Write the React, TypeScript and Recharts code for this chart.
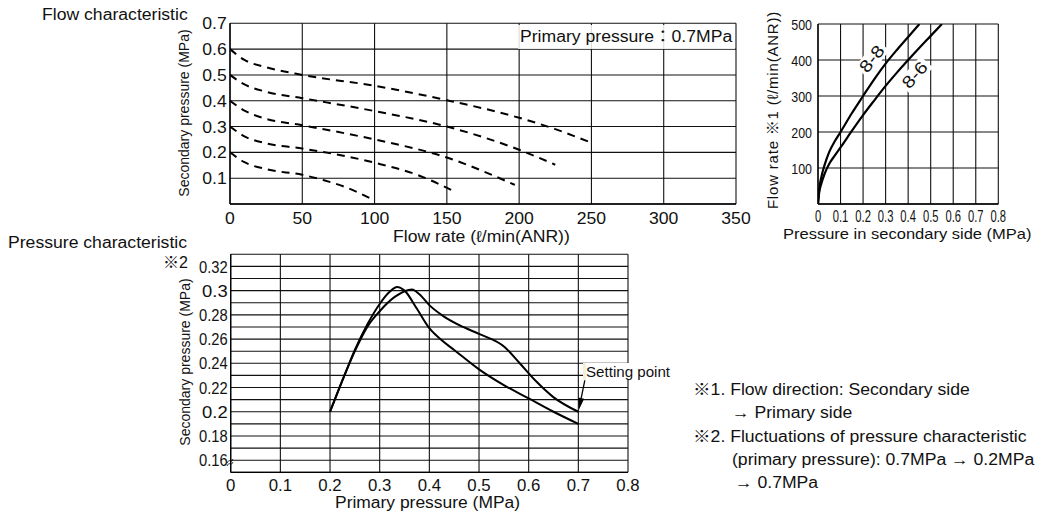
import React from 'react';
import { LineChart, Line, XAxis, YAxis, CartesianGrid, ReferenceLine } from 'recharts';

const FONT = '"Liberation Sans", Arial, "Noto Sans CJK JP", sans-serif';

// ---------- Flow characteristic (top-left) ----------
const FLOW_X_TICKS = [0, 50, 100, 150, 200, 250, 300, 350];
const SEC_PRESSURE_TICKS = [0, 0.1, 0.2, 0.3, 0.4, 0.5, 0.6, 0.7];

const SET06_FLOW = [0, 10, 25, 50, 100, 150, 200, 225, 250];
const SET06_PRESSURE = [0.6, 0.558, 0.53, 0.5, 0.458, 0.402, 0.334, 0.29, 0.237];
const SET05_FLOW = [0, 10, 25, 50, 100, 150, 200, 225];
const SET05_PRESSURE = [0.5, 0.463, 0.435, 0.41, 0.36, 0.3, 0.21, 0.152];
const SET04_FLOW = [0, 10, 25, 50, 100, 150, 197];
const SET04_PRESSURE = [0.4, 0.362, 0.33, 0.305, 0.25, 0.18, 0.074];
const SET03_FLOW = [0, 10, 25, 50, 100, 130, 154];
const SET03_PRESSURE = [0.3, 0.262, 0.235, 0.215, 0.16, 0.112, 0.052];
const SET02_FLOW = [0, 10, 25, 50, 65, 80, 97];
const SET02_PRESSURE = [0.2, 0.162, 0.135, 0.113, 0.092, 0.065, 0.022];

// ---------- Flow rate vs secondary pressure (top-right) ----------
const SEC_SIDE_TICKS = [0, 0.1, 0.2, 0.3, 0.4, 0.5, 0.6, 0.7, 0.8];
const FLOW_RATE_TICKS = [0, 100, 200, 300, 400, 500];
const M88_PRESSURE = [0, 0.005, 0.015, 0.03, 0.05, 0.075, 0.1, 0.15, 0.2, 0.25, 0.3, 0.35, 0.4, 0.45];
const M88_FLOW = [0, 40, 75, 110, 145, 175, 200, 252, 300, 347, 390, 428, 464, 500];
const M86_PRESSURE = [0, 0.005, 0.015, 0.03, 0.05, 0.075, 0.1, 0.15, 0.2, 0.25, 0.3, 0.35, 0.4, 0.45, 0.5, 0.55];
const M86_FLOW = [0, 30, 57, 85, 112, 135, 157, 203, 247, 288, 328, 365, 400, 434, 467, 500];

// ---------- Pressure characteristic (bottom) ----------
const PRIMARY_TICKS = [0, 0.1, 0.2, 0.3, 0.4, 0.5, 0.6, 0.7, 0.8];
const PC_Y_TICKS = [0.15, 0.16, 0.17, 0.18, 0.19, 0.2, 0.21, 0.22, 0.23, 0.24, 0.25, 0.26, 0.27, 0.28, 0.29, 0.3, 0.31, 0.32, 0.33];
const PC_Y_LABELS = ['0.16', '0.18', '0.2', '0.22', '0.24', '0.26', '0.28', '0.3', '0.32'];
const FALL_PRIMARY = [0.2, 0.23, 0.25, 0.275, 0.3, 0.32, 0.335, 0.35, 0.375, 0.4, 0.425, 0.45, 0.5, 0.55, 0.6, 0.65, 0.7];
const FALL_SECONDARY = [0.2, 0.231, 0.251, 0.272, 0.289, 0.299, 0.303, 0.3, 0.285, 0.269, 0.259, 0.251, 0.235, 0.222, 0.211, 0.2, 0.19];
const RISE_PRIMARY = [0.2, 0.23, 0.25, 0.275, 0.3, 0.331, 0.365, 0.38, 0.401, 0.428, 0.468, 0.5, 0.552, 0.582, 0.616, 0.649, 0.7];
const RISE_SECONDARY = [0.2, 0.231, 0.25, 0.27, 0.283, 0.295, 0.301, 0.297, 0.2876, 0.279, 0.27, 0.2643, 0.2533, 0.24, 0.2247, 0.2123, 0.2];
const SETTING_ARROW = [
  { x: 0.713, y: 0.226 },
  { x: 0.701, y: 0.2015 },
];

const zip = (xs: number[], ys: number[]) => xs.map((x, i) => ({ x, y: ys[i] }));

const FLOW_SERIES = [
  zip(SET06_FLOW, SET06_PRESSURE),
  zip(SET05_FLOW, SET05_PRESSURE),
  zip(SET04_FLOW, SET04_PRESSURE),
  zip(SET03_FLOW, SET03_PRESSURE),
  zip(SET02_FLOW, SET02_PRESSURE),
];
const M88 = zip(M88_PRESSURE, M88_FLOW);
const M86 = zip(M86_PRESSURE, M86_FLOW);
const FALL = zip(FALL_PRIMARY, FALL_SECONDARY);
const RISE = zip(RISE_PRIMARY, RISE_SECONDARY);

type TickOpts = {
  axis: 'x' | 'y';
  fontSize: number;
  scaleX: (label: string) => number;
  offset: number;
  format: (v: number) => string;
};

const makeTick = (o: TickOpts) => (props: any) => {
  const { x, y, payload } = props;
  const label = o.format(Number(payload.value));
  if (!label) return <g />;
  const sx = o.scaleX(label);
  const tx = o.axis === 'x' ? x : x - o.offset;
  const ty = o.axis === 'x' ? y + o.offset : y + 0.5;
  return (
    <text
      transform={`translate(${tx},${ty}) scale(${sx},1)`}
      textAnchor={o.axis === 'x' ? 'middle' : 'end'}
      dy="0.35em"
      fontSize={o.fontSize}
      fontFamily={FONT}
      fill="#111"
    >
      {label}
    </text>
  );
};

const fmtDec1 = (v: number) => (v === 0 ? '0' : v.toFixed(1));

const flowXTick = makeTick({ axis: 'x', fontSize: 16, scaleX: () => 1.1, offset: 14.3, format: (v) => String(v) });
const flowYTick = makeTick({ axis: 'y', fontSize: 16, scaleX: () => 1.1, offset: 3.3, format: (v) => (v === 0 ? '' : v.toFixed(1)) });
const secXTick = makeTick({ axis: 'x', fontSize: 16, scaleX: () => 0.7, offset: 12.7, format: fmtDec1 });
const secYTick = makeTick({ axis: 'y', fontSize: 14.5, scaleX: () => 0.86, offset: 6, format: (v) => (v === 0 ? '' : String(v)) });
const pcXTick = makeTick({ axis: 'x', fontSize: 16, scaleX: () => 1.05, offset: 12.7, format: fmtDec1 });
const pcYTick = makeTick({
  axis: 'y',
  fontSize: 16,
  scaleX: (l) => (l.length === 3 ? 1.15 : 0.92),
  offset: 3,
  format: (v) => {
    const s = String(Number(v.toFixed(2)));
    return PC_Y_LABELS.includes(s) ? s : '';
  },
});

const ArrowShape = (p: any) => {
  const { x1, y1, x2, y2 } = p;
  if ([x1, y1, x2, y2].some((v) => typeof v !== 'number' || isNaN(v))) return <g />;
  const dx = x2 - x1;
  const dy = y2 - y1;
  const len = Math.sqrt(dx * dx + dy * dy) || 1;
  const ux = dx / len;
  const uy = dy / len;
  const hl = 12;
  const hw = 3;
  const bx = x2 - ux * hl;
  const by = y2 - uy * hl;
  return (
    <g>
      <line x1={x1} y1={y1} x2={bx} y2={by} stroke="#000" strokeWidth={1.3} />
      <polygon
        points={`${x2},${y2} ${bx - uy * hw},${by + ux * hw} ${bx + uy * hw},${by - ux * hw}`}
        fill="#000"
      />
    </g>
  );
};

const Txt = ({ x, cy, fs = 16, sx = 1.1, children, style }: any) => (
  <div
    style={{
      position: 'absolute',
      left: x,
      top: cy - fs * 0.5,
      fontSize: fs,
      lineHeight: `${fs}px`,
      fontFamily: FONT,
      whiteSpace: 'nowrap',
      transform: `scaleX(${sx})`,
      transformOrigin: 'left center',
      color: '#111',
      ...style,
    }}
  >
    {children}
  </div>
);

const RTxt = ({ cx, cy, fs = 14, angle = -90, sx = 1, children, style }: any) => (
  <div
    style={{
      position: 'absolute',
      left: cx,
      top: cy,
      fontSize: fs,
      lineHeight: `${fs}px`,
      fontFamily: FONT,
      whiteSpace: 'nowrap',
      transform: `translate(-50%,-50%) rotate(${angle}deg) scaleX(${sx})`,
      color: '#111',
      ...style,
    }}
  >
    {children}
  </div>
);

const axisLineStyle = { stroke: '#000', strokeWidth: 1.3 };
const GRID = '#111';

export default function App() {
  return (
    <div style={{ position: 'absolute', left: 0, top: 0, width: 1046, height: 513, overflow: 'hidden', background: '#fff' }}>
      {/* Flow characteristic */}
      <div style={{ position: 'absolute', left: 0, top: 0 }}>
        <LineChart width={760} height={250} margin={{ top: 23.3, right: 24, bottom: 16, left: 190 }}>
          <CartesianGrid stroke={GRID} strokeWidth={1.1} />
          <XAxis
            type="number"
            dataKey="x"
            domain={[0, 350]}
            ticks={FLOW_X_TICKS}
            interval={0}
            height={30}
            tickSize={0}
            tickMargin={0}
            tickLine={false}
            axisLine={axisLineStyle}
            tick={flowXTick}
            allowDataOverflow
          />
          <YAxis
            type="number"
            dataKey="y"
            domain={[0, 0.7]}
            ticks={SEC_PRESSURE_TICKS}
            interval={0}
            width={40}
            tickSize={0}
            tickMargin={0}
            tickLine={false}
            axisLine={axisLineStyle}
            tick={flowYTick}
            allowDataOverflow
          />
          {FLOW_SERIES.map((d, i) => (
            <Line
              key={i}
              data={d}
              dataKey="y"
              type="monotone"
              stroke="#000"
              strokeWidth={2}
              strokeDasharray="8 6"
              dot={false}
              activeDot={false}
              isAnimationActive={false}
            />
          ))}
        </LineChart>
      </div>

      {/* Flow rate vs pressure in secondary side */}
      <div style={{ position: 'absolute', left: 760, top: 0 }}>
        <LineChart width={286} height={250} margin={{ top: 24, right: 47.7, bottom: 16, left: 28 }}>
          <CartesianGrid stroke={GRID} strokeWidth={1.1} />
          <XAxis
            type="number"
            dataKey="x"
            domain={[0, 0.8]}
            ticks={SEC_SIDE_TICKS}
            interval={0}
            height={30}
            tickSize={0}
            tickMargin={0}
            tickLine={false}
            axisLine={axisLineStyle}
            tick={secXTick}
            allowDataOverflow
          />
          <YAxis
            type="number"
            dataKey="y"
            domain={[0, 500]}
            ticks={FLOW_RATE_TICKS}
            interval={0}
            width={30}
            tickSize={0}
            tickMargin={0}
            tickLine={false}
            axisLine={axisLineStyle}
            tick={secYTick}
            allowDataOverflow
          />
          <Line data={M88} dataKey="y" type="monotone" stroke="#000" strokeWidth={2.2} dot={false} activeDot={false} isAnimationActive={false} />
          <Line data={M86} dataKey="y" type="monotone" stroke="#000" strokeWidth={2.2} dot={false} activeDot={false} isAnimationActive={false} />
        </LineChart>
      </div>

      {/* Pressure characteristic */}
      <div style={{ position: 'absolute', left: 0, top: 240 }}>
        <LineChart width={700} height={273} margin={{ top: 14.3, right: 72, bottom: 15.7, left: 190.7 }}>
          <CartesianGrid stroke={GRID} strokeWidth={1.1} />
          <XAxis
            type="number"
            dataKey="x"
            domain={[0, 0.8]}
            ticks={PRIMARY_TICKS}
            interval={0}
            height={25}
            tickSize={0}
            tickMargin={0}
            tickLine={false}
            axisLine={axisLineStyle}
            tick={pcXTick}
            allowDataOverflow
          />
          <YAxis
            type="number"
            dataKey="y"
            domain={[0.15, 0.33]}
            ticks={PC_Y_TICKS}
            interval={0}
            width={40}
            tickSize={0}
            tickMargin={0}
            tickLine={false}
            axisLine={axisLineStyle}
            tick={pcYTick}
            allowDataOverflow
          />
          <Line data={FALL} dataKey="y" type="monotone" stroke="#000" strokeWidth={2} dot={false} activeDot={false} isAnimationActive={false} />
          <Line data={RISE} dataKey="y" type="monotone" stroke="#000" strokeWidth={2} dot={false} activeDot={false} isAnimationActive={false} />
          <ReferenceLine segment={SETTING_ARROW} shape={(p: any) => <ArrowShape {...p} />} ifOverflow="visible" />
        </LineChart>
      </div>

      {/* axis break mark */}
      <svg style={{ position: 'absolute', left: 0, top: 0 }} width={1046} height={513}>
        <path d="M227 466 c1 -2 2 -3 3 -2 s2 0 3 -2" stroke="#000" strokeWidth={0.8} fill="none" />
        <path d="M227 463 c1 -2 2 -3 3 -2 s2 0 3 -2" stroke="#000" strokeWidth={0.8} fill="none" />
      </svg>

      {/* texts, top-left */}
      <Txt x={42} cy={15}>Flow characteristic</Txt>
      <RTxt cx={184} cy={113.3} fs={14}>Secondary pressure (MPa)</RTxt>
      <div style={{ position: 'absolute', left: 518, top: 24.5, width: 216.5, height: 24, background: 'rgba(255,255,255,0.85)' }} />
      <Txt x={519.5} cy={37}>Primary pressure：0.7MPa</Txt>
      <Txt x={393} cy={236.7}>Flow rate (ℓ/min(ANR))</Txt>

      {/* texts, top-right */}
      <RTxt cx={771.7} cy={110} fs={15} style={{ letterSpacing: 0.8 }}>Flow rate ※1 (ℓ/min(ANR))</RTxt>
      <RTxt cx={871.7} cy={59.3} fs={17} angle={-52} sx={1.2} style={{ background: '#fff', padding: '0 2px' }}>8-8</RTxt>
      <RTxt cx={915} cy={75} fs={17} angle={-48} sx={1.2} style={{ background: '#fff', padding: '0 2px' }}>8-6</RTxt>
      <Txt x={783} cy={233.3} fs={15}>Pressure in secondary side (MPa)</Txt>

      {/* texts, bottom */}
      <Txt x={8} cy={243.3}>Pressure characteristic</Txt>
      <Txt x={163} cy={263} sx={1}>※2</Txt>
      <RTxt cx={185} cy={361.7} fs={14}>Secondary pressure (MPa)</RTxt>
      <Txt x={335} cy={503} sx={1.09}>Primary pressure (MPa)</Txt>
      <div style={{ position: 'absolute', left: 583, top: 363, width: 90, height: 17, background: '#fff', borderLeft: '3px solid #f4f0d4', boxSizing: 'border-box' }} />
      <Txt x={586} cy={371.7} fs={14} sx={1.08}>Setting point</Txt>

      {/* notes */}
      <Txt x={693} cy={390}>※1. Flow direction: Secondary side</Txt>
      <Txt x={731.7} cy={413.3}>→ Primary side</Txt>
      <Txt x={693} cy={436.7}>※2. Fluctuations of pressure characteristic</Txt>
      <Txt x={731.7} cy={460}>(primary pressure): 0.7MPa → 0.2MPa</Txt>
      <Txt x={735} cy={483.3}>→ 0.7MPa</Txt>
    </div>
  );
}
